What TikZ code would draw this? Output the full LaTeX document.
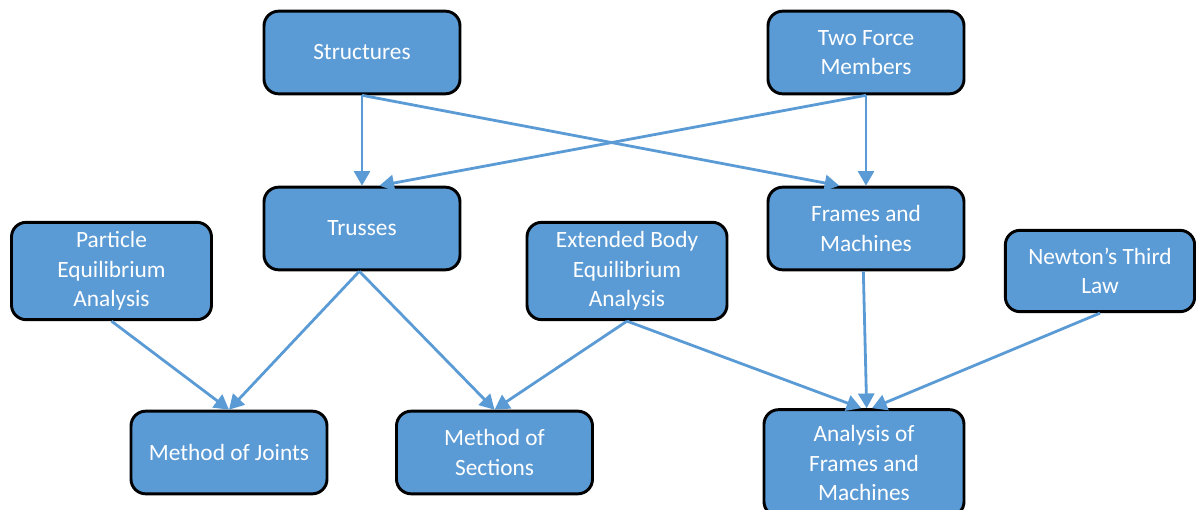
\documentclass[tikz,border=0pt]{standalone}
\usepackage{fontspec}
\setmainfont{Carlito}
\usetikzlibrary{arrows.meta}
\definecolor{boxblue}{HTML}{5B9BD5}
\tikzset{
  box/.style={draw=black, line width=2.2pt, fill=boxblue, rounded corners=11pt,
    text=white, align=center, font=\fontsize{17.5}{22}\selectfont,
    minimum width=147pt, minimum height=62pt, inner sep=2pt},
  conn/.style={draw=boxblue, line width=2.1pt, -{Triangle[length=11pt,width=12pt]}}
}
\begin{document}
\begin{tikzpicture}[x=0.75pt,y=-0.75pt]
\useasboundingbox (0,0) rectangle (1196,510);
\node[box] (st) at (362,52.5) {Structures};
\node[box] (tf) at (866,52.5) {Two Force\\Members};
\node[box] (tr) at (362,228.5) {Trusses};
\node[box] (fm) at (866,228.5) {Frames and\\Machines};
\node[box, minimum width=150pt, minimum height=73pt] (pe) at (111.5,271) {Particle\\Equilibrium\\Analysis};
\node[box, minimum width=150pt, minimum height=73pt] (eb) at (627,271) {Extended Body\\Equilibrium\\Analysis};
\node[box, minimum width=142pt, minimum height=61pt] (nt) at (1100,271) {Newton’s Third\\Law};
\node[box] (mj) at (229,452.5) {Method of Joints};
\node[box] (ms) at (494.5,452.5) {Method of\\Sections};
\node[box, minimum width=150pt, minimum height=80pt] (af) at (864,463) {Analysis of\\Frames and\\Machines};
\coordinate (trin) at ([xshift=13]tr.north);
\coordinate (fmin) at ([xshift=-20]fm.north);
\coordinate (afin) at (af.north);
\draw[conn] (st.south) -- (tr.north);
\draw[conn] (st.south) -- (fmin);
\draw[conn] (tf.south) -- (fm.north);
\draw[conn] (tf.south) -- (trin);
\draw[conn] ([xshift=-2]tr.south) -- (mj.north);
\draw[conn] ([xshift=-2]tr.south) -- (ms.north);
\draw[conn] (pe.south) -- (mj.north);
\draw[conn] (eb.south) -- (ms.north);
\draw[conn] (eb.south) -- ([xshift=-2]afin);
\draw[conn] ([xshift=-2]fm.south) -- ([xshift=2]afin);
\draw[conn] (nt.south) -- ([xshift=6]afin);
\end{tikzpicture}
\end{document}
